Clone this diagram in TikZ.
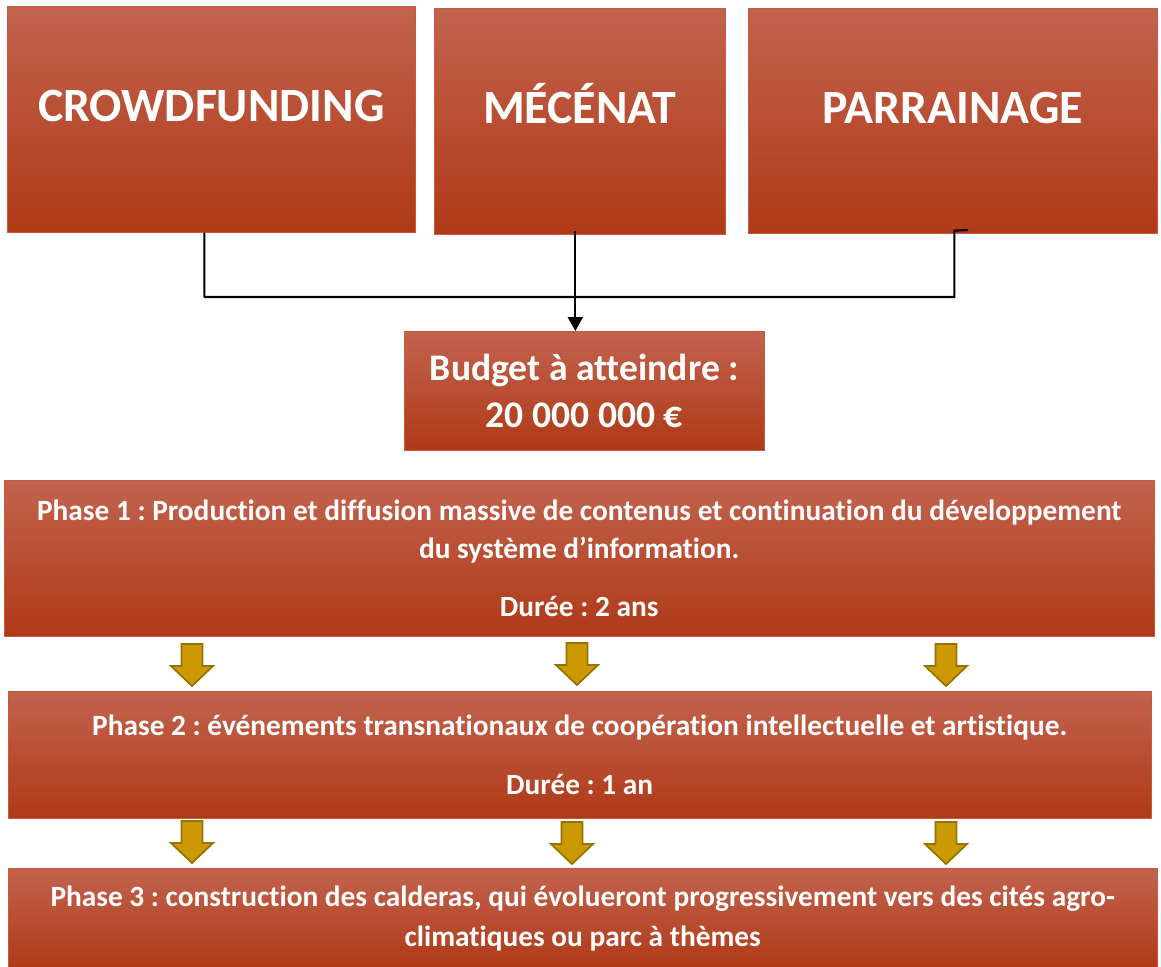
\documentclass[tikz,border=0pt]{standalone}
\usepackage{fontspec}
\setmainfont{Carlito}[Ligatures={NoCommon}]
\frenchspacing
\usetikzlibrary{arrows.meta,calc}
\definecolor{boxtop}{RGB}{194,99,78}
\definecolor{boxmid}{RGB}{187,68,35}
\definecolor{boxbot}{RGB}{175,57,23}
\definecolor{boxedge}{RGB}{200,90,60}
\definecolor{goldfill}{RGB}{204,153,0}
\definecolor{goldedge}{RGB}{150,115,0}
\def\goldarrow(#1,#2){\draw[goldarrow] ({#1-10.5},#2) -- ({#1+10.5},#2) -- ({#1+10.5},{#2+22}) -- ({#1+21},{#2+22}) -- (#1,{#2+42}) -- ({#1-21},{#2+22}) -- ({#1-10.5},{#2+22}) -- cycle;}

\begin{document}
\begin{tikzpicture}[x=0.02cm, y=-0.02cm,
    redbox/.style={draw=boxedge, line width=0.4pt, top color=boxtop, middle color=boxmid, bottom color=boxbot,
        text=white, font=\bfseries, align=center, inner sep=0pt, anchor=north west},
    topbox/.style={redbox, font=\fontsize{27.2}{32}\bfseries, text height=0.62cm, text depth=0.52cm},
    phasebox/.style={redbox, font=\fontsize{16.7}{21.5}\bfseries},
    link/.style={line width=1.2pt, black},
    goldarrow/.style={fill=goldfill, draw=goldedge, line width=1pt, line join=miter}]
			%%%%% START %%%%%
			\useasboundingbox (0,0) rectangle (1161,967);
			
			\node[topbox, minimum width=8.16cm, minimum height=4.52cm] (crowd) at (7,6) {CROWDFUNDING};
			\node[topbox, minimum width=5.82cm, minimum height=4.52cm] (mecenat) at (434,8) {MÉCÉNAT};
			\node[topbox, minimum width=8.18cm, minimum height=4.50cm] (parrain) at (748,8) {PARRAINAGE};
			
			\node[redbox, font=\fontsize{21.4}{27}\bfseries, minimum width=7.2cm, minimum height=2.38cm] (budget) at (404,331) {Budget à atteindre :\\ 20 000 000 €};
			
			\coordinate (hub) at (204,297);
			\coordinate (stub) at (968,230);
			\draw[link] ([xshift=-0.14cm]crowd.south) |- (hub) -| ([xshift=0.03cm,yshift=0.06cm]parrain.south) -- (stub);
			\draw[link, -{Triangle[width=0.3cm,length=0.28cm]}] ([xshift=-0.09cm,yshift=0.08cm]mecenat.south) -- ([xshift=-0.09cm]mecenat.south |- budget.north);
			
			\node[phasebox, minimum width=23cm, minimum height=3.12cm] (phase1) at (4,480) {Phase 1 : Production et diffusion massive de contenus et continuation du développement\\ du système d’information.\\[0.42cm] Durée : 2 ans};
			
			\goldarrow(192,644)
			\goldarrow(577,643)
			\goldarrow(946,644)
			
			\node[phasebox, minimum width=22.86cm, minimum height=2.54cm] (phase2) at (8,691) {Phase 2 : événements transnationaux de coopération intellectuelle et artistique.\\[0.42cm] Durée : 1 an};
			
			\goldarrow(192,821)
			\goldarrow(572,822)
			\goldarrow(946,822)
			
			\node[phasebox, font=\fontsize{16.7}{22.5}\bfseries, minimum width=22.98cm, minimum height=2.0cm] (phase3) at (8,868) {Phase 3 : construction des calderas, qui évolueront progressivement vers des cités agro-\\ climatiques ou parc à thèmes};
			
			%%%%% END %%%%%
\end{tikzpicture}
\end{document}
